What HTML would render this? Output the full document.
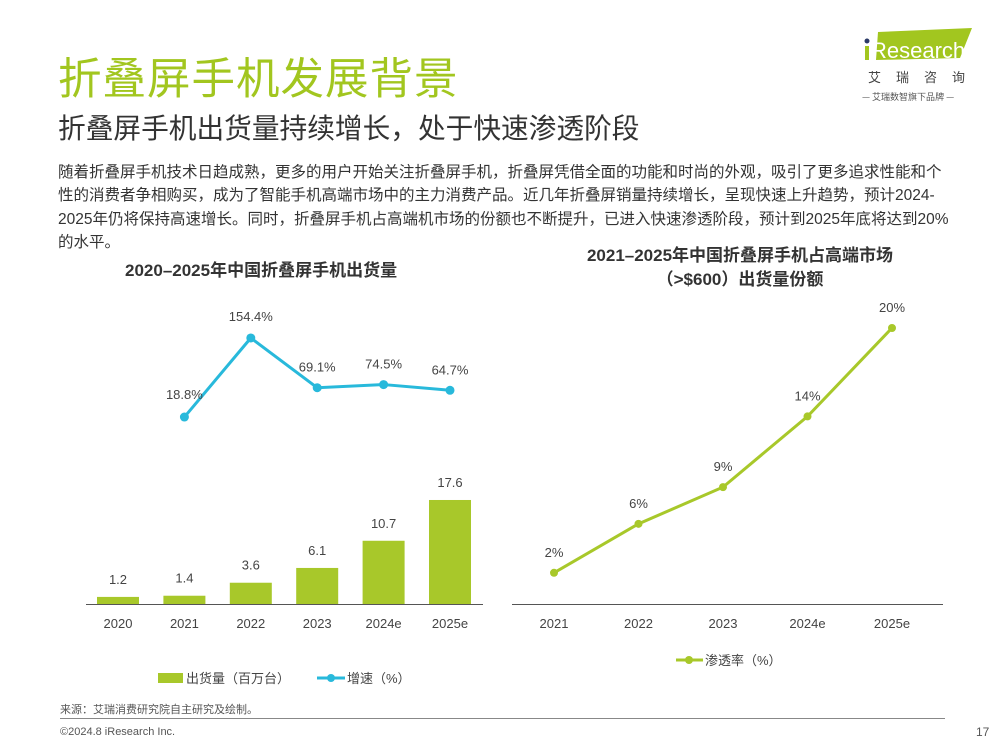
<!DOCTYPE html>
<html><head><meta charset="utf-8"><style>
body{margin:0;width:1000px;height:750px;background:#fff;position:relative;overflow:hidden;font-family:"Liberation Sans","Noto Sans CJK SC",sans-serif;color:#333}
.a{position:absolute;white-space:nowrap}
</style></head><body>
<div class="a" style="left:58px;top:44px;font-size:43.5px;color:#a2c61f;letter-spacing:1px">折叠屏手机发展背景</div>
<div class="a" style="left:58px;top:106px;font-size:27.7px;color:#333">折叠屏手机出货量持续增长，处于快速渗透阶段</div>
<div class="a" style="left:58px;top:161px;width:920px;white-space:normal;font-size:15.5px;line-height:23.3px;color:#333">随着折叠屏手机技术日趋成熟，更多的用户开始关注折叠屏手机，折叠屏凭借全面的功能和时尚的外观，吸引了更多追求性能和个<br>性的消费者争相购买，成为了智能手机高端市场中的主力消费产品。近几年折叠屏销量持续增长，呈现快速上升趋势，预计2024-<br>2025年仍将保持高速增长。同时，折叠屏手机占高端机市场的份额也不断提升，已进入快速渗透阶段，预计到2025年底将达到20%<br>的水平。</div>
<div class="a" style="left:860px;top:28px;width:120px;height:80px">
<svg width="120" height="80"><polygon points="18,4 112,0 100,30 16,32" fill="#a2c61f"/><circle cx="7" cy="13" r="2.5" fill="#2b3a67"/><rect x="5" y="18" width="4" height="14" fill="#a2c61f"/>
<text x="11" y="30" font-size="22" fill="#fff" font-family="Liberation Sans">Research</text>
<text x="8" y="54" font-size="13" fill="#444" letter-spacing="15" font-family="Noto Sans CJK SC">艾瑞咨询</text>
<text x="2" y="72" font-size="9" fill="#555" font-family="Noto Sans CJK SC">— 艾瑞数智旗下品牌 —</text></svg></div>
<div class="a" style="left:125px;top:256px;font-size:17px;font-weight:bold;color:#333">2020–2025年中国折叠屏手机出货量</div>
<div class="a" style="left:535px;top:244px;width:410px;text-align:center;font-size:17px;font-weight:bold;line-height:24px;color:#333">2021–2025年中国折叠屏手机占高端市场<br>（&gt;$600）出货量份额</div>
<svg id="c" class="a" style="left:0;top:0" width="1000" height="750"></svg>
<div class="a" style="left:60px;top:701px;font-size:11px;color:#555">来源：艾瑞消费研究院自主研究及绘制。</div>
<div class="a" style="left:60px;top:718px;width:885px;height:1px;background:#888"></div>
<div class="a" style="left:60px;top:726px;font-size:11px;color:#555">©2024.8 iResearch Inc.</div>
<div class="a" style="left:976px;top:725px;font-size:12px;color:#555">17</div>
<script>
const years=["2020","2021","2022","2023","2024e","2025e"];
const shipments=[1.2,1.4,3.6,6.1,10.7,17.6];
const growthYears=["2021","2022","2023","2024e","2025e"];
const growth=[18.8,154.4,69.1,74.5,64.7];
const shareYears=["2021","2022","2023","2024e","2025e"];
const share=[2.0,5.6,8.3,13.5,20.0];
const shareLabels=["2%","6%","9%","14%","20%"];
const NS="http://www.w3.org/2000/svg",svg=document.getElementById('c');
function mk(t,a,txt){const e=document.createElementNS(NS,t);for(const k in a)e.setAttribute(k,a[k]);if(txt!=null)e.textContent=txt;svg.appendChild(e);return e;}
const G="#a8c82a",B="#28b9db",F='"Liberation Sans","Noto Sans CJK SC",sans-serif';
const lx=i=>118+i*66.4, by=v=>604-v*5.91, gy=v=>428-v*0.583;
shipments.forEach((v,i)=>{
 const r=mk('rect',{x:lx(i)-21,y:by(v),width:42,height:604-by(v),fill:G});
 
 
 const t=mk('text',{x:lx(i),y:by(v)-13,'text-anchor':'middle','font-size':13,fill:'#444','font-family':F},v.toFixed(1));
 
 
 const x=mk('text',{x:lx(i),y:628,'text-anchor':'middle','font-size':13,fill:'#444','font-family':F},years[i]);
 
 
});
const la=mk('line',{x1:86,y1:604.5,x2:483,y2:604.5,stroke:'#555','stroke-width':1});


const gi=i=>years.indexOf(growthYears[i]);
const gl=mk('polyline',{points:growth.map((v,i)=>lx(gi(i))+','+gy(v)).join(' '),fill:'none',stroke:B,'stroke-width':3});


growth.forEach((v,i)=>{
 const c=mk('circle',{cx:lx(gi(i)),cy:gy(v),r:4.5,fill:B});
 
 
 const t=mk('text',{x:lx(gi(i)),y:gy(v)-(i==0?18:i==1?17:16),'text-anchor':'middle','font-size':13,fill:'#444','font-family':F},v.toFixed(1)+'%');
 
 
});
const l1=mk('rect',{x:158,y:673,width:25,height:10,fill:G});


const l1t=mk('text',{x:186,y:683,'font-size':13,fill:'#444','font-family':F},'出货量（百万台）');


const l2=mk('line',{x1:317,y1:678,x2:345,y2:678,stroke:B,'stroke-width':3});


mk('circle',{cx:331,cy:678,r:4,fill:B});
const l2t=mk('text',{x:347,y:683,'font-size':13,fill:'#444','font-family':F},'增速（%）');


const rx=i=>554+i*84.5, ry=v=>600-v*13.6;
const ra=mk('line',{x1:512,y1:604.5,x2:943,y2:604.5,stroke:'#555','stroke-width':1});


const sl=mk('polyline',{points:share.map((v,i)=>rx(i)+','+ry(v)).join(' '),fill:'none',stroke:G,'stroke-width':3});


share.forEach((v,i)=>{
 const c=mk('circle',{cx:rx(i),cy:ry(v),r:4,fill:G});
 
 
 const t=mk('text',{x:rx(i),y:ry(v)-16,'text-anchor':'middle','font-size':13,fill:'#444','font-family':F},shareLabels[i]);
 
 
 const x=mk('text',{x:rx(i),y:628,'text-anchor':'middle','font-size':13,fill:'#444','font-family':F},shareYears[i]);
 
 
});
const l3=mk('line',{x1:676,y1:660,x2:703,y2:660,stroke:G,'stroke-width':3});


mk('circle',{cx:689,cy:660,r:4,fill:G});
const l3t=mk('text',{x:705,y:665,'font-size':13,fill:'#444','font-family':F},'渗透率（%）');


</script>
</body></html>
